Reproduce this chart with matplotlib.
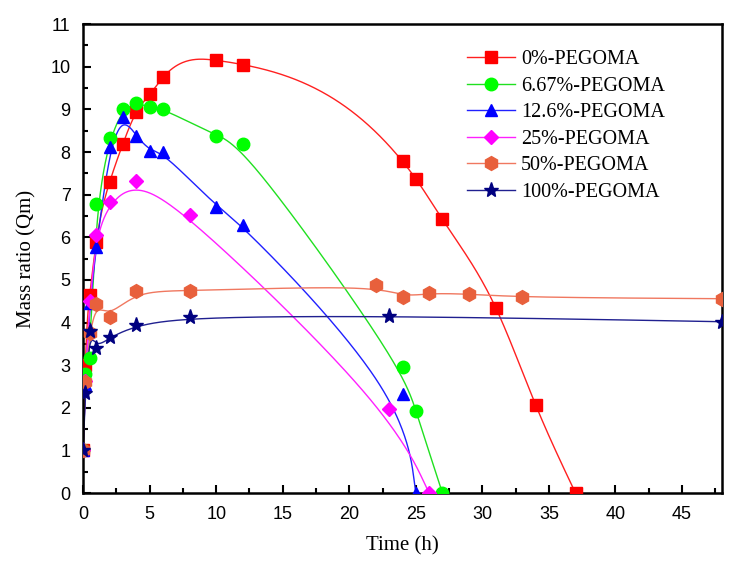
import numpy as np
import matplotlib
matplotlib.use("Agg")
import matplotlib.pyplot as plt
from matplotlib.ticker import MultipleLocator

# ---- data ----
labels = ["0%-PEGOMA", "6.67%-PEGOMA", "12.6%-PEGOMA", "25%-PEGOMA", "50%-PEGOMA", "100%-PEGOMA"]

t_0 = [0, 0.17, 0.5, 1, 2, 3, 4, 5, 6, 10, 12, 24, 25, 27, 31, 34, 37]
q_0 = [1.0, 3.0, 4.65, 5.9, 7.3, 8.2, 8.93, 9.35, 9.75, 10.15, 10.05, 7.78, 7.37, 6.42, 4.35, 2.07, 0.0]

t_667 = [0, 0.17, 0.5, 1, 2, 3, 4, 5, 6, 10, 12, 24, 25, 27]
q_667 = [1.0, 2.8, 3.18, 6.77, 8.33, 9.0, 9.16, 9.05, 9.02, 8.38, 8.18, 2.95, 1.92, 0.0]

t_126 = [0, 0.17, 0.5, 1, 2, 3, 4, 5, 6, 10, 12, 24, 25]
q_126 = [1.0, 2.55, 4.45, 5.78, 8.12, 8.82, 8.38, 8.03, 8.0, 6.72, 6.3, 2.32, 0.0]

t_25 = [0, 0.17, 0.5, 1, 2, 4, 8, 23, 26]
q_25 = [1.0, 2.62, 4.5, 6.06, 6.82, 7.31, 6.53, 1.98, 0.0]

t_50 = [0, 0.17, 0.5, 1, 2, 4, 8, 22, 24, 26, 29, 33, 48]
q_50 = [1.0, 2.6, 3.76, 4.44, 4.13, 4.75, 4.74, 4.88, 4.6, 4.69, 4.67, 4.59, 4.56]

t_100 = [0, 0.17, 0.5, 1, 2, 4, 8, 23, 48]
q_100 = [1.0, 2.34, 3.8, 3.41, 3.65, 3.94, 4.13, 4.16, 4.02]

series_t = [t_0, t_667, t_126, t_25, t_50, t_100]
series_q = [q_0, q_667, q_126, q_25, q_50, q_100]

# ---- styles ----
marker_colors = ["#FF0000", "#00FF00", "#0000FF", "#FF00FF", "#E8603C", "#000080"]
line_colors = ["#FF2020", "#20E020", "#2020FF", "#FF20FF", "#F07860", "#202090"]
markers = ["s", "o", "^", "D", "h", "*"]
msizes = [8, 9, 9, 7.5, 10, 11]
curve_kind = ["spline", "bspline", "bspline", "bspline", "bspline", "bspline"]


def natural_spline(x, y, num=600):
    x = np.asarray(x, float)
    y = np.asarray(y, float)
    n = len(x)
    h = np.diff(x)
    A = np.zeros((n, n))
    r = np.zeros(n)
    A[0, 0] = 1.0
    A[-1, -1] = 1.0
    for i in range(1, n - 1):
        A[i, i - 1] = h[i - 1]
        A[i, i] = 2 * (h[i - 1] + h[i])
        A[i, i + 1] = h[i]
        r[i] = 6 * ((y[i + 1] - y[i]) / h[i] - (y[i] - y[i - 1]) / h[i - 1])
    M = np.linalg.solve(A, r)
    xs = np.linspace(x[0], x[-1], num)
    idx = np.clip(np.searchsorted(x, xs) - 1, 0, n - 2)
    x0, x1 = x[idx], x[idx + 1]
    hh = x1 - x0
    a = (x1 - xs) / hh
    b = (xs - x0) / hh
    ys = a * y[idx] + b * y[idx + 1] + ((a ** 3 - a) * M[idx] + (b ** 3 - b) * M[idx + 1]) * hh ** 2 / 6
    return xs, ys


def bspline(x, y, per_seg=60):
    # uniform cubic B-spline using the data points as control points, clamped ends
    P = np.column_stack([x, y]).astype(float)
    Q = np.vstack([P[:1], P[:1], P, P[-1:], P[-1:]])
    u = np.linspace(0, 1, per_seg)
    b0 = (1 - u) ** 3 / 6
    b1 = (3 * u ** 3 - 6 * u ** 2 + 4) / 6
    b2 = (-3 * u ** 3 + 3 * u ** 2 + 3 * u + 1) / 6
    b3 = u ** 3 / 6
    pts = []
    for i in range(len(Q) - 3):
        seg = (np.outer(b0, Q[i]) + np.outer(b1, Q[i + 1]) +
               np.outer(b2, Q[i + 2]) + np.outer(b3, Q[i + 3]))
        pts.append(seg)
    pts = np.vstack(pts)
    return pts[:, 0], pts[:, 1]


fig = plt.figure(figsize=(7.42, 5.61), dpi=100)
ax = fig.add_axes([0.112, 0.121, 0.861, 0.836])

handles = []
for t, q, lab, mc, lc, mk, ms, kind in zip(series_t, series_q, labels, marker_colors,
                                            line_colors, markers, msizes, curve_kind):
    xs, ys = natural_spline(t, q) if kind == "spline" else bspline(t, q)
    ax.plot(xs, ys, color=lc, lw=1.0, zorder=2)
    ax.plot(t, q, linestyle="none", marker=mk, ms=ms, color=mc, mec=mc, zorder=3)
    h, = ax.plot([], [], color=lc, lw=1.0, marker=mk, ms=ms, mfc=mc, mec=mc, label=lab)
    handles.append(h)

ax.set_xlim(0, 48)
ax.set_ylim(0, 11)
ax.xaxis.set_major_locator(MultipleLocator(5))
ax.xaxis.set_minor_locator(MultipleLocator(2.5))
ax.yaxis.set_major_locator(MultipleLocator(1))
ax.yaxis.set_minor_locator(MultipleLocator(0.5))
ax.tick_params(which="both", direction="in", top=False, right=False, width=1.5, labelsize=13)
ax.tick_params(which="major", length=6, pad=9)
ax.tick_params(which="minor", length=3.5)
for lab in ax.get_xticklabels() + ax.get_yticklabels():
    lab.set_fontfamily("Liberation Sans")
for sp in ax.spines.values():
    sp.set_linewidth(1.8)

ax.set_xlabel("Time (h)", family="Liberation Serif", fontsize=15, labelpad=10)
ax.set_ylabel("Mass ratio (Qm)", family="Liberation Serif", fontsize=15, labelpad=10)

leg = ax.legend(handles=handles, loc="upper left", bbox_to_anchor=(0.629, 0.911),
                bbox_transform=fig.transFigure, frameon=False,
                prop={"family": "Liberation Serif", "size": 14.5},
                handlelength=2.4, handletextpad=0.3, labelspacing=0.37,
                borderaxespad=0, borderpad=0)

fig.savefig("out.png", dpi=100)
